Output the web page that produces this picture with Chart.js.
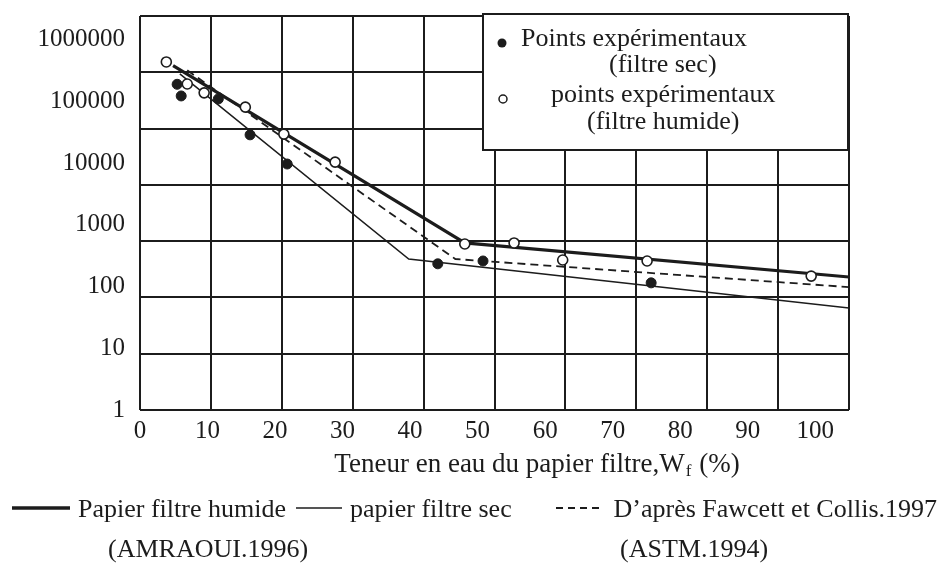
<!DOCTYPE html>
<html>
<head>
<meta charset="utf-8">
<script src="https://cdn.jsdelivr.net/npm/chart.js@4.4.1/dist/chart.umd.min.js"></script>
<style>
  html, body { margin: 0; padding: 0; background: #fff; }
  canvas { display: block; }
</style>
</head>
<body>
<canvas id="chart" width="941" height="564"></canvas>
<script>
// graduations
const xTicks = [0, 10, 20, 30, 40, 50, 60, 70, 80, 90, 100];
const yTicks = [1, 10, 100, 1000, 10000, 100000, 1000000];

// points expérimentaux (filtre humide) - cercles vides
const humideX = [3.9, 7.0, 9.5, 15.6, 21.3, 28.9, 48.1, 55.4, 62.6, 75.1, 99.4];
const humideY = [437000, 192000, 138000, 81000, 29600, 10400, 490, 510, 270, 260, 148];

// points expérimentaux (filtre sec) - cercles pleins
const secX = [5.5, 6.1, 11.6, 16.3, 21.8, 44.1, 50.8, 75.7];
const secY = [190000, 123000, 110000, 28800, 9700, 234, 260, 115];

// courbes d'étalonnage
const courbeHumideX = [4.9, 48.1, 105];
const courbeHumideY = [380000, 510, 143];
const courbeSecX = [5.9, 39.8, 105];
const courbeSecY = [280000, 280, 45];
const fawcettX = [7.0, 46.7, 105];
const fawcettY = [320000, 280, 98];

function zip(xs, ys) {
  return xs.map((x, i) => ({ x: x, y: ys[i] }));
}

const INK = "#1c1c1c";
const SERIF = "'Liberation Serif', 'DejaVu Serif', serif";

// textes et légendes dessinés sur le canvas
const annotations = {
  id: "annotations",
  afterDatasetsDraw(chart) {
    const ctx = chart.ctx;
    ctx.save();

    // boîte de légende en haut à droite
    ctx.fillStyle = "#fff";
    ctx.fillRect(483, 14, 365, 136);
    ctx.strokeStyle = INK;
    ctx.lineWidth = 2;
    ctx.strokeRect(483, 14, 365, 136);

    ctx.fillStyle = INK;
    ctx.beginPath();
    ctx.arc(502, 43, 4.5, 0, Math.PI * 2);
    ctx.fill();
    ctx.beginPath();
    ctx.arc(503, 99, 4, 0, Math.PI * 2);
    ctx.fillStyle = "#fff";
    ctx.fill();
    ctx.lineWidth = 1.5;
    ctx.stroke();

    ctx.fillStyle = INK;
    ctx.font = "26px " + SERIF;
    ctx.textBaseline = "alphabetic";
    ctx.textAlign = "left";
    ctx.fillText("Points expérimentaux", 521, 46);
    ctx.fillText("(filtre sec)", 609, 72);
    ctx.fillText("points expérimentaux", 551, 102);
    ctx.fillText("(filtre humide)", 587, 129);

    // titre de l'axe x avec indice
    const t1 = "Teneur en eau du papier filtre,W";
    const t2 = " (%)";
    ctx.font = "27px " + SERIF;
    const w1 = ctx.measureText(t1).width;
    const w3 = ctx.measureText(t2).width;
    ctx.font = "17px " + SERIF;
    const w2 = ctx.measureText("f").width + 2;
    let x0 = 537 - (w1 + w2 + w3) / 2;
    ctx.font = "27px " + SERIF;
    ctx.fillText(t1, x0, 472);
    ctx.font = "17px " + SERIF;
    ctx.fillText("f", x0 + w1 + 1, 476);
    ctx.font = "27px " + SERIF;
    ctx.fillText(t2, x0 + w1 + w2, 472);

    // légende du bas
    ctx.strokeStyle = INK;
    ctx.lineWidth = 3.5;
    ctx.beginPath(); ctx.moveTo(12, 508); ctx.lineTo(70, 508); ctx.stroke();
    ctx.lineWidth = 1.5;
    ctx.beginPath(); ctx.moveTo(296, 508); ctx.lineTo(342, 508); ctx.stroke();
    ctx.lineWidth = 2;
    ctx.setLineDash([7, 5]);
    ctx.beginPath(); ctx.moveTo(556, 508); ctx.lineTo(600, 508); ctx.stroke();
    ctx.setLineDash([]);

    ctx.font = "26px " + SERIF;
    ctx.fillText("Papier filtre humide", 78, 517);
    ctx.fillText("papier filtre sec", 350, 517);
    ctx.textAlign = "right";
    ctx.fillText("D\u2019après Fawcett et Collis.1997", 937, 517);
    ctx.textAlign = "left";
    ctx.fillText("(AMRAOUI.1996)", 108, 557);
    ctx.fillText("(ASTM.1994)", 620, 557);

    ctx.restore();
  }
};

// pas de marge automatique pour les étiquettes
function noPad(axis) {
  axis.paddingTop = 0;
  axis.paddingBottom = 0;
  axis.paddingLeft = 0;
  axis.paddingRight = 0;
}

const ctx = document.getElementById("chart").getContext("2d");
const chart = new Chart(ctx, {
  data: {
    datasets: [
      {
        type: "scatter",
        label: "points expérimentaux (filtre humide)",
        data: zip(humideX, humideY),
        pointRadius: 5,
        pointBackgroundColor: "#fff",
        pointBorderColor: INK,
        pointBorderWidth: 1.6,
        order: 0,
      },
      {
        type: "scatter",
        label: "Points expérimentaux (filtre sec)",
        data: zip(secX, secY),
        pointRadius: 5,
        pointBackgroundColor: INK,
        pointBorderColor: INK,
        pointBorderWidth: 1,
        order: 0,
      },
      {
        type: "line",
        label: "Papier filtre humide",
        data: zip(courbeHumideX, courbeHumideY),
        borderColor: INK,
        borderWidth: 3.2,
        pointRadius: 0,
        tension: 0,
        order: 1,
      },
      {
        type: "line",
        label: "papier filtre sec",
        data: zip(courbeSecX, courbeSecY),
        borderColor: INK,
        borderWidth: 1.5,
        pointRadius: 0,
        tension: 0,
        order: 1,
      },
      {
        type: "line",
        label: "D'après Fawcett et Collis.1997",
        data: zip(fawcettX, fawcettY),
        borderColor: INK,
        borderWidth: 1.8,
        borderDash: [8, 5],
        pointRadius: 0,
        tension: 0,
        order: 1,
      },
    ],
  },
  options: {
    responsive: false,
    animation: false,
    layout: { padding: { left: 0, top: 16, right: 92, bottom: 0 } },
    plugins: {
      legend: { display: false },
      tooltip: { enabled: false },
    },
    scales: {
      x: {
        type: "linear",
        position: "bottom",
        min: 0,
        max: 105,
        grid: { display: false, drawTicks: false },
        border: { display: false },
        afterBuildTicks: (axis) => {
          axis.ticks = xTicks.map((v) => ({ value: v }));
        },
        afterFit: (axis) => { axis.height = 154; noPad(axis); },
        ticks: {
          color: INK,
          padding: 6,
          maxRotation: 0,
          font: { family: SERIF, size: 25 },
          callback: (v) => String(v),
        },
      },
      xg: {
        type: "linear",
        position: "bottom",
        min: 0,
        max: 10,
        ticks: { display: false, stepSize: 1 },
        grid: { color: INK, lineWidth: 2, drawTicks: false },
        border: { display: false },
        afterFit: (axis) => { axis.height = 0; noPad(axis); },
      },
      y: {
        type: "logarithmic",
        position: "left",
        min: 1,
        max: 2430000,
        grid: { display: false, drawTicks: false },
        border: { display: false },
        afterBuildTicks: (axis) => {
          axis.ticks = yTicks.map((v) => ({ value: v }));
        },
        afterFit: (axis) => { axis.width = 140; noPad(axis); },
        ticks: {
          color: INK,
          padding: 15,
          font: { family: SERIF, size: 25 },
          callback: (v) => String(v),
        },
      },
      yg: {
        type: "linear",
        position: "left",
        min: 0,
        max: 7,
        ticks: { display: false, stepSize: 1 },
        grid: { color: INK, lineWidth: 2, drawTicks: false },
        border: { display: false },
        afterFit: (axis) => { axis.width = 0; noPad(axis); },
      },
    },
  },
  plugins: [annotations],
});
</script>
</body>
</html>
